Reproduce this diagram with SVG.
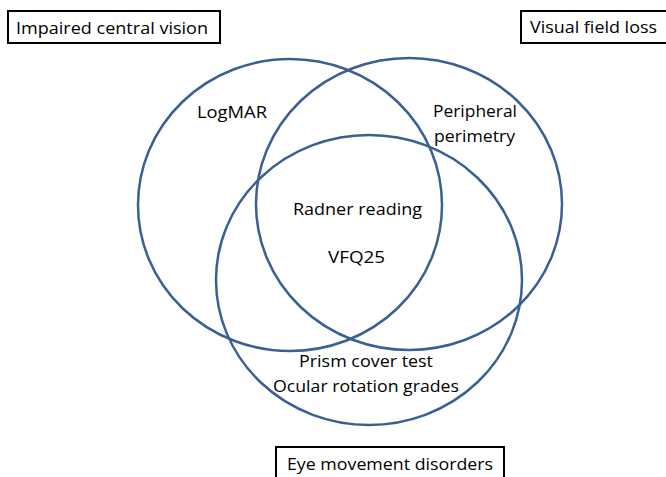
<svg xmlns="http://www.w3.org/2000/svg" width="666" height="477" viewBox="0 0 666 477">
<style>
.set{fill:none;stroke:#3A6093;stroke-width:2.5}
.box{fill:#fff;stroke:#000;stroke-width:2}
text{font-family:"Open Sans","Liberation Sans",sans-serif;font-size:17px;fill:#000}
</style>
<rect width="666" height="477" fill="#fff"/>
<g id="connectors"></g>
<g id="set-central"><ellipse class="set" cx="290" cy="205" rx="152" ry="146"/></g>
<g id="set-field"><ellipse class="set" cx="409" cy="204" rx="153" ry="146"/></g>
<g id="set-movement"><ellipse class="set" cx="369" cy="280" rx="153" ry="145"/></g>
<g id="label-central"><rect class="box" x="8" y="11" width="212" height="32"/><text x="16" y="34" textLength="192" lengthAdjust="spacingAndGlyphs">Impaired central vision</text></g>
<g id="label-field"><rect class="box" x="521" y="11" width="150" height="32"/><text x="530" y="33" textLength="127" lengthAdjust="spacingAndGlyphs">Visual field loss</text></g>
<g id="label-movement"><rect class="box" x="276" y="447" width="228" height="40"/><text x="287" y="470" textLength="206" lengthAdjust="spacingAndGlyphs">Eye movement disorders</text></g>
<g id="t-logmar"><text x="197" y="118" textLength="70" lengthAdjust="spacingAndGlyphs">LogMAR</text></g>
<g id="t-peripheral"><text x="433" y="117" textLength="84" lengthAdjust="spacingAndGlyphs">Peripheral</text><text x="434" y="142" textLength="81" lengthAdjust="spacingAndGlyphs">perimetry</text></g>
<g id="t-center"><text x="293" y="215" textLength="129" lengthAdjust="spacingAndGlyphs">Radner reading</text><text x="328" y="263" textLength="57" lengthAdjust="spacingAndGlyphs">VFQ25</text></g>
<g id="t-movement"><text x="299" y="367" textLength="134" lengthAdjust="spacingAndGlyphs">Prism cover test</text><text x="273" y="392" textLength="186" lengthAdjust="spacingAndGlyphs">Ocular rotation grades</text></g>
</svg>
